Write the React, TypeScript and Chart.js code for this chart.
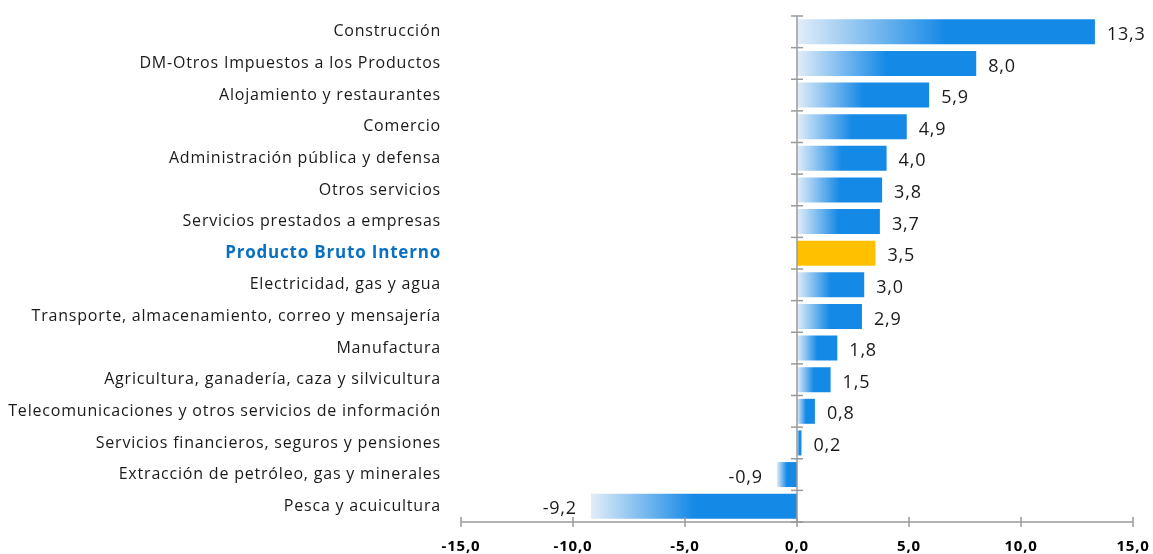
import React, { useEffect, useRef } from "react";
import { Chart, registerables } from "chart.js";

Chart.register(...registerables);

const categories: string[] = [
  "Construcción",
  "DM-Otros Impuestos a los Productos",
  "Alojamiento y restaurantes",
  "Comercio",
  "Administración pública y defensa",
  "Otros servicios",
  "Servicios prestados a empresas",
  "Producto Bruto Interno",
  "Electricidad, gas y agua",
  "Transporte, almacenamiento, correo y mensajería",
  "Manufactura",
  "Agricultura, ganadería, caza y silvicultura",
  "Telecomunicaciones y otros servicios de información",
  "Servicios financieros, seguros y pensiones",
  "Extracción de petróleo, gas y minerales",
  "Pesca y acuicultura",
];

const values: number[] = [13.3, 8.0, 5.9, 4.9, 4.0, 3.8, 3.7, 3.5, 3.0, 2.9, 1.8, 1.5, 0.8, 0.2, -0.9, -9.2];

const highlightLabel = "Producto Bruto Interno";

const xMin = -15;
const xMax = 15;
const xStep = 5;

const fmt = (v: number) => v.toFixed(1).replace(".", ",");

const LABEL_FONT = "'Open Sans', sans-serif";
const BLUE = "#1589e6";
const LIGHT = "#e2edf8";
const GOLD = "#ffc000";
const AXIS = "#9a9a9a";

const axesPlugin = {
  id: "customAxes",
  beforeDraw(chart: any) {
    (chart.ctx as any).letterSpacing = "0.8px";
  },
  afterDatasetsDraw(chart: any) {
    const { ctx, scales } = chart;
    const x = scales.x;
    const y = scales.y;
    const x0 = x.getPixelForValue(0);
    ctx.save();
    ctx.strokeStyle = AXIS;
    ctx.lineWidth = 1.5;
    ctx.beginPath();
    ctx.moveTo(x0, y.top);
    ctx.lineTo(x0, y.bottom);
    ctx.stroke();
    const n = categories.length;
    const band = (y.bottom - y.top) / n;
    for (let i = 0; i <= n; i++) {
      const py = y.top + i * band;
      ctx.beginPath();
      ctx.moveTo(x0 - 6, py);
      ctx.lineTo(x0 + 6, py);
      ctx.stroke();
    }
    ctx.beginPath();
    ctx.moveTo(x.left, x.top);
    ctx.lineTo(x.right, x.top);
    ctx.stroke();
    for (let v = xMin; v <= xMax; v += xStep) {
      const px = x.getPixelForValue(v);
      ctx.beginPath();
      ctx.moveTo(px, x.top - 5);
      ctx.lineTo(px, x.top + 5);
      ctx.stroke();
    }
    const meta = chart.getDatasetMeta(0);
    ctx.fillStyle = "#1a1a1a";
    ctx.font = `18px ${LABEL_FONT}`;
    ctx.textBaseline = "middle";
    meta.data.forEach((bar: any, i: number) => {
      const v = values[i];
      const text = fmt(v);
      if (v >= 0) {
        ctx.textAlign = "left";
        ctx.fillText(text, bar.x + 12, bar.y + 3);
      } else {
        ctx.textAlign = "right";
        ctx.fillText(text, bar.x - 14, bar.y + 3);
      }
    });
    ctx.restore();
  },
  afterDraw(chart: any) {
    (chart.ctx as any).letterSpacing = "0px";
  },
};

export default function App() {
  const canvasRef = useRef<HTMLCanvasElement | null>(null);

  useEffect(() => {
    document.body.style.margin = "0";
    const canvas = canvasRef.current;
    if (!canvas) return;
    const chart = new Chart(canvas, {
      type: "bar",
      data: {
        labels: categories,
        datasets: [
          {
            data: values,
            barPercentage: 0.79,
            categoryPercentage: 1,
            borderWidth: 0,
            backgroundColor: (c: any) => {
              const i = c.dataIndex;
              if (i === undefined) return BLUE;
              if (categories[i] === highlightLabel) return GOLD;
              const ch = c.chart;
              const xs = ch.scales.x;
              if (!xs || xs.left === undefined) return BLUE;
              const v = values[i];
              const a = xs.getPixelForValue(Math.min(0, v));
              const b = xs.getPixelForValue(Math.max(0, v));
              if (!isFinite(a) || !isFinite(b) || b - a < 1) return BLUE;
              const g = ch.ctx.createLinearGradient(a, 0, b, 0);
              g.addColorStop(0, LIGHT);
              g.addColorStop(0.5, BLUE);
              g.addColorStop(1, BLUE);
              return g;
            },
          },
        ],
      },
      options: {
        indexAxis: "y",
        animation: false,
        responsive: false,
        maintainAspectRatio: false,
        layout: { padding: { top: 16, right: 20, left: 0, bottom: 0 } },
        plugins: {
          legend: { display: false },
          tooltip: { enabled: false },
        },
        scales: {
          x: {
            min: xMin,
            max: xMax,
            grid: { display: false, drawTicks: false },
            border: { display: false },
            ticks: {
              stepSize: xStep,
              padding: 16,
              color: "#000",
              font: { family: LABEL_FONT, size: 15, weight: "bold" },
              callback: (v: any) => fmt(Number(v)),
            },
            afterFit: (s: any) => {
              s.height = 32;
              s.paddingLeft = 0;
              s.paddingRight = 0;
            },
          },
          y: {
            grid: { display: false, drawTicks: false },
            border: { display: false },
            ticks: {
              padding: 20,
              autoSkip: false,
              color: (c: any) => (categories[c.index] === highlightLabel ? "#0a70c4" : "#1a1a1a"),
              font: (c: any) =>
                categories[c.index] === highlightLabel
                  ? { family: LABEL_FONT, size: 17, weight: "bold" }
                  : { family: LABEL_FONT, size: 16 },
            },
            afterFit: (s: any) => {
              s.width = 461;
              s.paddingTop = 0;
              s.paddingBottom = 0;
            },
          },
        },
      },
      plugins: [axesPlugin],
    });
    return () => chart.destroy();
  }, []);

  return (
    <div style={{ width: 1153, height: 554 }}>
      <canvas ref={canvasRef} width={1153} height={554} style={{ display: "block" }} />
    </div>
  );
}
